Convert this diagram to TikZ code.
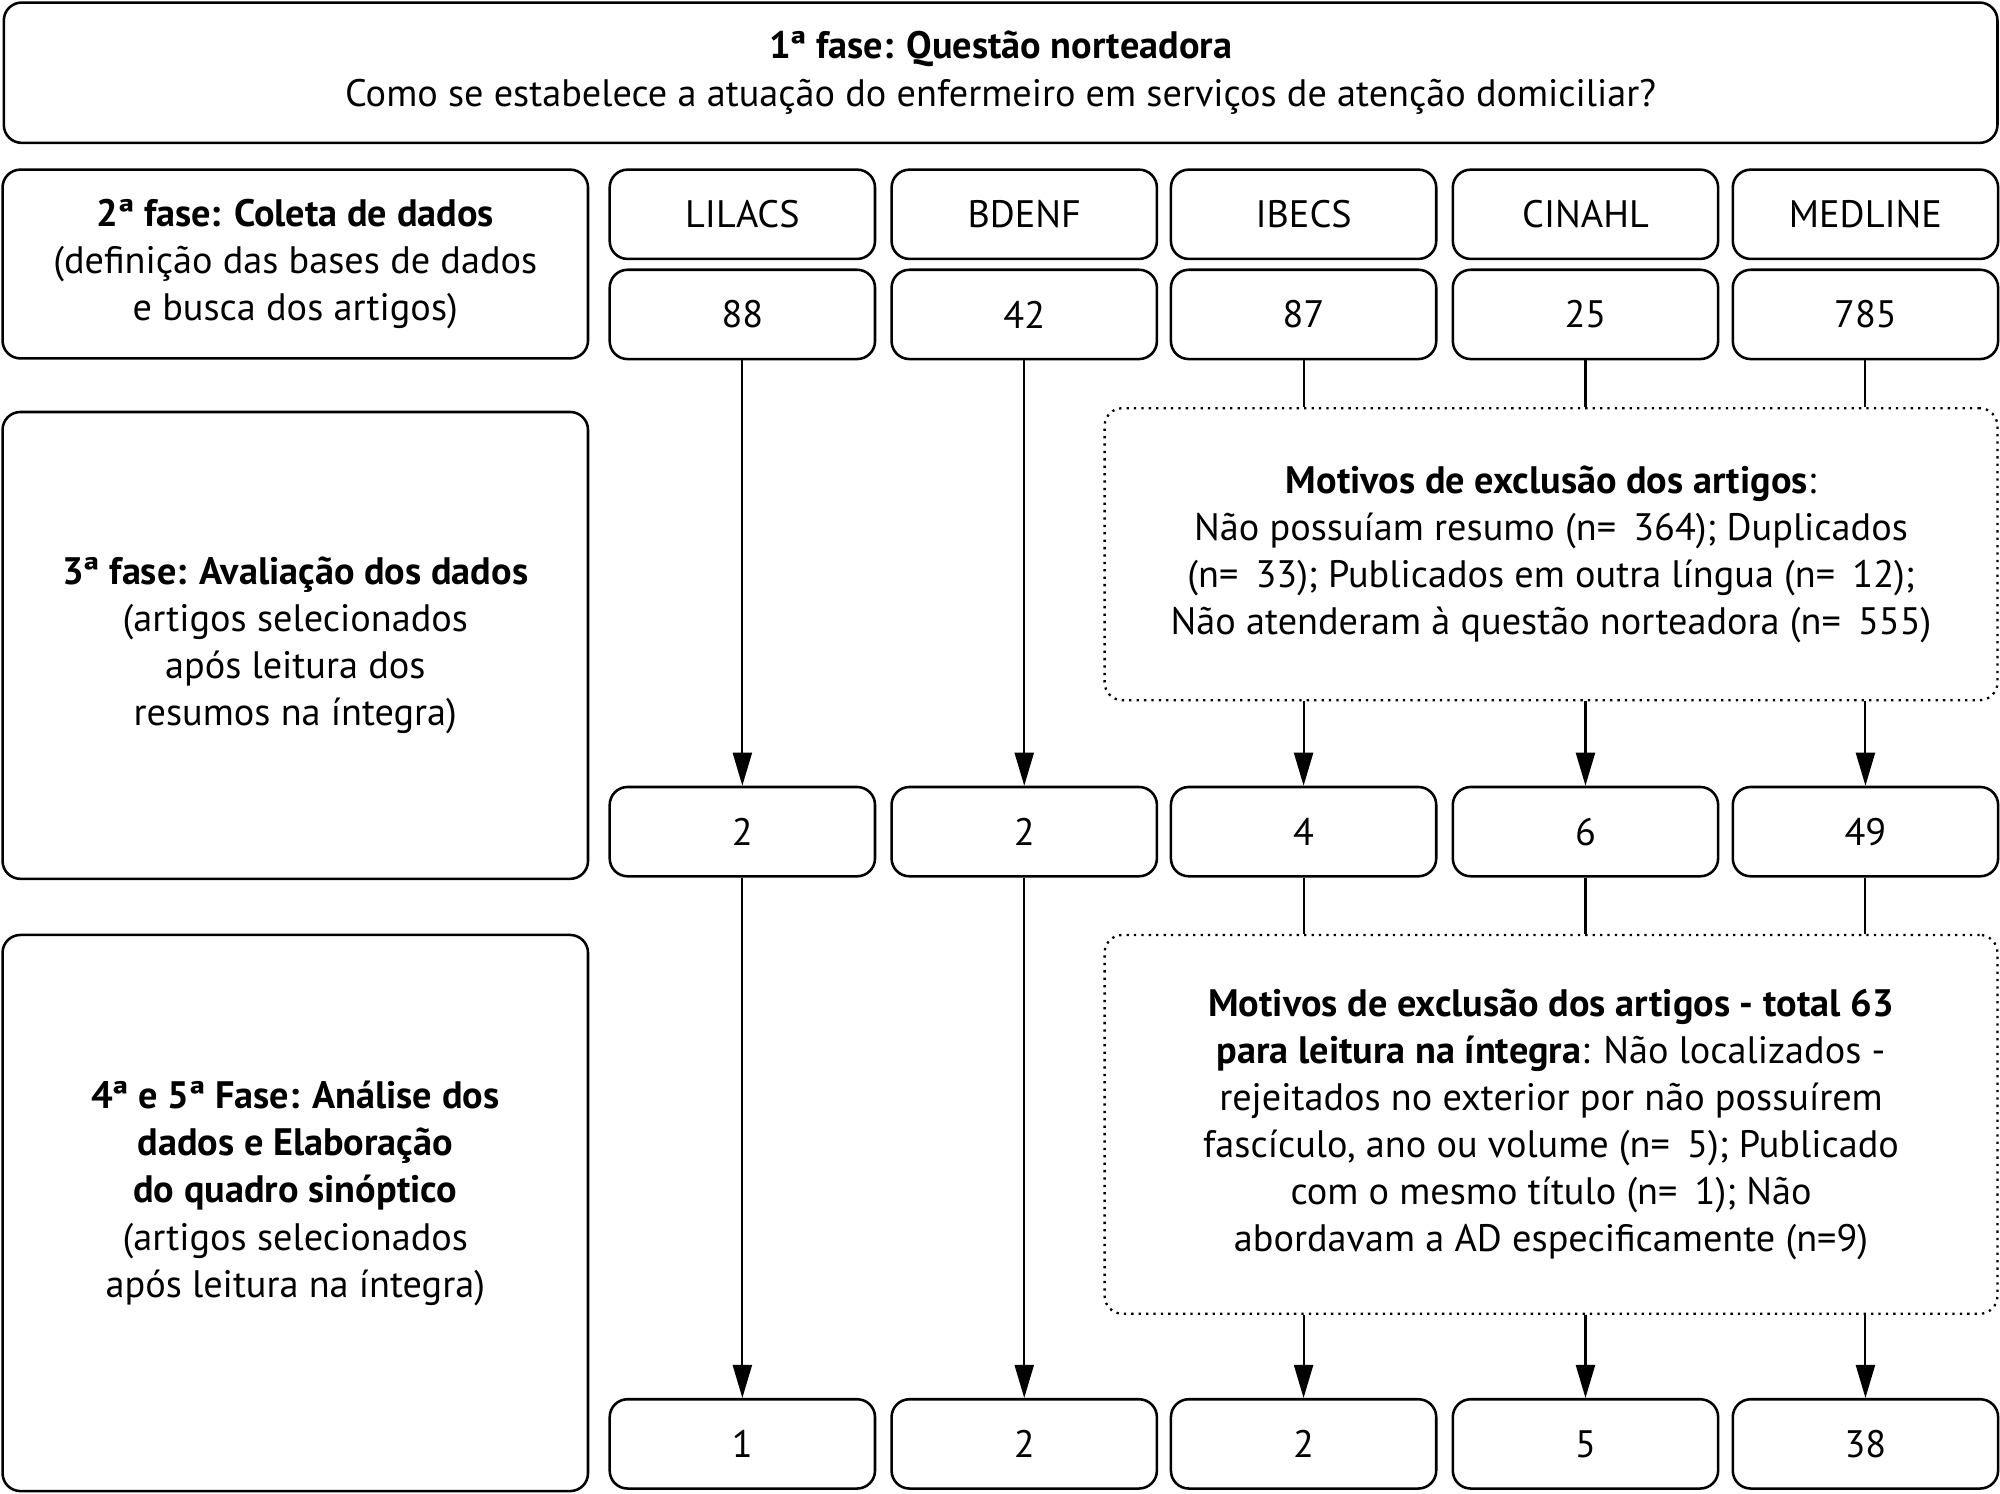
\documentclass[tikz,border=0pt]{standalone}
\usepackage{fontspec}
\setmainfont{PT Sans}
\usetikzlibrary{arrows.meta,calc}
\newcommand\fs{\fontsize{15}{18.5}\selectfont}
\newcommand\eqs{=\hspace{0.45em}}
\begin{document}
\begin{tikzpicture}[x=0.5pt,y=-0.5pt,
  box/.style={draw, line width=1pt, rounded corners=7pt, inner sep=0pt, align=center, font=\fs},
  colbox/.style={box, minimum width=104pt, minimum height=35pt},
  leftbox/.style={box, minimum width=229.5pt},
  dotbox/.style={draw, dotted, line width=0.9pt, rounded corners=7pt, inner sep=0pt, align=center, font=\fs, minimum width=350pt},
  conn/.style={line width=0.8pt},
  arr/.style={line width=0.8pt, -{Triangle[length=13pt,width=7.5pt]}}]
\useasboundingbox (0,0) rectangle (1568,1171);

% top box
\node[box, minimum width=781.5pt, minimum height=55pt] (top) at (784.5,57)
  {\textbf{1ª fase: Questão norteadora}\\Como se estabelece a atuação do enfermeiro em serviços de atenção domiciliar?};

% left boxes
\node[leftbox, minimum height=74pt] (f2) at (231.5,207)
  {\textbf{2ª fase: Coleta de dados}\\(definição das bases de dados\\e busca dos artigos)};
\node[leftbox, minimum height=183pt] (f3) at (231.5,506)
  {\textbf{3ª fase: Avaliação dos dados}\\(artigos selecionados\\após leitura dos\\resumos na íntegra)};
\node[leftbox, minimum height=218pt] (f4) at (231.5,951) {};
\node[align=center, font=\fs, inner sep=0pt] (f4t) at (231.5,935.5)
  {\textbf{4ª e 5ª Fase: Análise dos}\\\textbf{dados e Elaboração}\\\textbf{do quadro sinóptico}\\(artigos selecionados\\após leitura na íntegra)};

% column boxes
\foreach \n/\cx/\a/\b/\c/\d in {1/582/LILACS/88/2/1, 2/803/BDENF/42/2/2, 3/1022/IBECS/87/4/2, 4/1243/CINAHL/25/6/5, 5/1462.5/MEDLINE/785/49/38}{
  \node[colbox] (r1c\n) at (\cx,168) {\a};
  \node[colbox] (r2c\n) at (\cx,246.5) {\b};
  \node[colbox] (r3c\n) at (\cx,652) {\c};
  \node[colbox] (r4c\n) at (\cx,1132) {\d};
}

% dotted boxes
\node[dotbox, minimum height=114.5pt] (d1) at (1216,434.5)
  {\textbf{Motivos de exclusão dos artigos}:\\Não possuíam resumo (n\eqs364); Duplicados\\(n\eqs33); Publicados em outra língua (n\eqs12);\\Não atenderam à questão norteadora (n\eqs555)};
\node[dotbox, minimum height=148.5pt] (d2) at (1216,881.5)
  {\textbf{Motivos de exclusão dos artigos - total 63}\\\textbf{para leitura na íntegra}: Não localizados -\\rejeitados no exterior por não possuírem\\fascículo, ano ou volume (n\eqs5); Publicado\\com o mesmo título (n\eqs1); Não\\abordavam a AD especificamente (n=9)};

% connectors
\foreach \n in {1,2}{
  \draw[arr] (r2c\n.south) -- (r3c\n.north);
  \draw[arr] (r3c\n.south) -- (r4c\n.north);
}
\foreach \n in {3,4,5}{
  \draw[conn] (r2c\n.south) -- (r2c\n.south |- d1.north);
  \draw[arr] (r3c\n.north |- d1.south) -- (r3c\n.north);
  \draw[conn] (r3c\n.south) -- (r3c\n.south |- d2.north);
  \draw[arr] (r4c\n.north |- d2.south) -- (r4c\n.north);
}
\end{tikzpicture}
\end{document}
